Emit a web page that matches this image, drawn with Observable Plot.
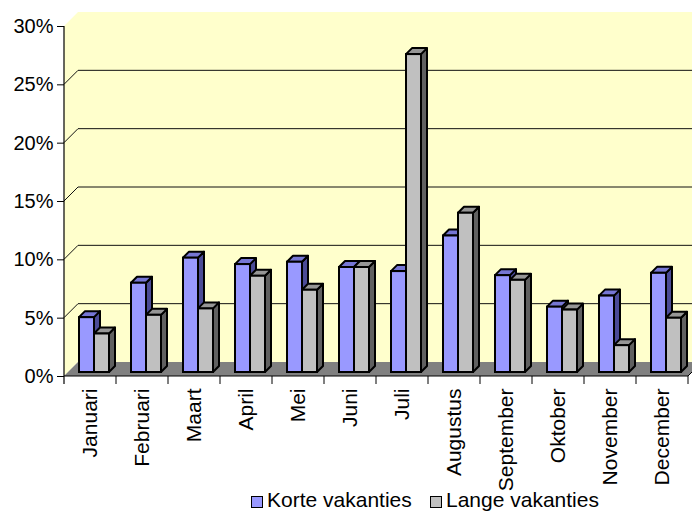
<!DOCTYPE html>
<html>
<head>
<meta charset="utf-8">
<script src="https://cdn.jsdelivr.net/npm/d3@7"></script>
<script src="https://cdn.jsdelivr.net/npm/@observablehq/plot@0.6"></script>
<style>
  body { margin: 0; background: #fff; font-family: "Liberation Sans", Arial, sans-serif; }
  #chart svg { display: block; overflow: visible; }
  #legend { position: relative; height: 24px; font-size: 21px; line-height: 24px; white-space: nowrap; }
  .item { position: absolute; top: 0; }
  .sw { display: inline-block; width: 10px; height: 10px; border: 1.5px solid #000; vertical-align: -1px; margin-right: 4px; }
</style>
</head>
<body>
<div id="chart"></div>
<div id="legend"></div>
<script>
// ---- data ----
const months = ["Januari", "Februari", "Maart", "April", "Mei", "Juni", "Juli", "Augustus", "September", "Oktober", "November", "December"];
const seriesNames = ["Korte vakanties", "Lange vakanties"];
const korte = [4.7, 7.65, 9.8, 9.25, 9.45, 9.0, 8.65, 11.7, 8.3, 5.6, 6.55, 8.5];
const lange = [3.3, 4.9, 5.45, 8.25, 7.05, 9.0, 27.25, 13.65, 7.9, 5.35, 2.3, 4.65];
const yTicks = [0, 5, 10, 15, 20, 25, 30];

// ---- styles ----
const frontColors = ["#9999FF", "#C0C0C0"];
const topColors = ["#7676D4", "#969696"];
const sideColors = ["#4B4B96", "#606060"];
const wallColor = "#FFFFCC";
const floorColor = "#808080";
const W = 692, H = 488;
const mL = 64, mR = 4, mT = 26, mB = H - 376;
const D = 14;      // wall depth (px)
const FD = 4;      // bar front offset (px)
const BD = 6;      // bar depth (px)
const BW = 15;     // bar width (px)

const rows = [];
months.forEach((m, i) => {
  rows.push({month: m, series: seriesNames[0], s: 0, value: korte[i]});
  rows.push({month: m, series: seriesNames[1], s: 1, value: lange[i]});
});

function wallMark(index, scales, values, dim) {
  const {x, y} = scales;
  const g = d3.create("svg:g");
  const x0 = dim.marginLeft, x1 = dim.width - dim.marginRight, xr = dim.width;
  const yb = y(0), yt = y(30);
  g.append("path")
    .attr("d", `M${x0},${yb}L${x0},${yt}L${x0 + D},${yt - D}L${xr},${yt - D}L${xr},${yb - D}L${x0 + D},${yb - D}Z`)
    .attr("fill", wallColor);
  // floor
  g.append("path")
    .attr("d", `M${x0},${yb}L${x0 + D},${yb - D}L${xr},${yb - D}L${xr},${yb - (xr - x1)}L${x1},${yb}Z`)
    .attr("fill", floorColor);
  // gridlines
  for (const t of yTicks) {
    if (t === 0 || t === 30) continue;
    const yy = y(t);
    g.append("path")
      .attr("d", `M${x0},${yy}L${x0 + D},${yy - D}L${xr},${yy - D}`)
      .attr("fill", "none").attr("stroke", "#111").attr("stroke-width", 1);
  }
  // axes lines
  g.append("line").attr("x1", x0).attr("x2", x0).attr("y1", yt).attr("y2", yb + 8)
    .attr("stroke", "#000").attr("stroke-width", 1.2);
  g.append("line").attr("x1", x0).attr("x2", x1).attr("y1", yb).attr("y2", yb)
    .attr("stroke", "#000").attr("stroke-width", 1.2);
  g.append("line").attr("x1", x1).attr("x2", xr).attr("y1", yb).attr("y2", yb - (xr - x1))
    .attr("stroke", "#000").attr("stroke-width", 1);
  // x ticks at band boundaries
  const bw = x.bandwidth();
  months.forEach((m, i) => {
    const bx = x(m) + bw;
    g.append("line").attr("x1", bx).attr("x2", bx).attr("y1", yb).attr("y2", yb + 8)
      .attr("stroke", "#000").attr("stroke-width", 1);
  });
  return g.node();
}

function barTopsSides(index, scales) {
  const {x, y} = scales;
  const g = d3.create("svg:g")
    .attr("stroke", "#000").attr("stroke-width", 2).attr("stroke-linejoin", "round");
  const bw = x.bandwidth();
  for (const d of rows) {
    const c = x(d.month) + bw / 2 + FD;
    const xl = d.s === 0 ? c - BW : c;
    const xr = d.s === 0 ? c : c + BW;
    const yt = y(d.value) - FD, yb = y(0) - FD;
    g.append("path")
      .attr("d", `M${xr},${yt}L${xr + BD},${yt - BD}L${xr + BD},${yb - BD}L${xr},${yb}Z`)
      .attr("fill", sideColors[d.s]);
    g.append("path")
      .attr("d", `M${xl},${yt}L${xr},${yt}L${xr + BD},${yt - BD}L${xl + BD},${yt - BD}Z`)
      .attr("fill", topColors[d.s]);
  }
  return g.node();
}

const band = (W - mL - mR) / months.length;
const half = band / 2;

const chart = Plot.plot({
  width: W,
  height: H,
  marginLeft: mL,
  marginRight: mR,
  marginTop: mT,
  marginBottom: mB,
  style: {fontFamily: "'Liberation Sans', Arial, sans-serif", fontSize: "20px", background: "white", overflow: "visible", color: "#000"},
  x: {domain: months, padding: 0, tickSize: 0, tickPadding: 12, tickRotate: -90, label: null},
  y: {domain: [0, 30], ticks: yTicks, tickFormat: d => d + "%", tickSize: 7, tickPadding: 4, label: null},
  marks: [
    wallMark,
    barTopsSides,
    Plot.barY(rows.filter(d => d.s === 0), {
      x: "month", y: "value", fill: frontColors[0], stroke: "#000", strokeWidth: 2,
      insetLeft: half - (BW - FD), insetRight: half - FD, dy: -FD
    }),
    Plot.barY(rows.filter(d => d.s === 1), {
      x: "month", y: "value", fill: frontColors[1], stroke: "#000", strokeWidth: 2,
      insetLeft: half + FD, insetRight: half - FD - BW, dy: -FD
    })
  ]
});
d3.select(chart).selectAll('[aria-label^="x-axis"]').style("font-size", "21px");
document.getElementById("chart").appendChild(chart);

// legend
const legend = document.getElementById("legend");
const legendX = [251, 430];
seriesNames.forEach((name, i) => {
  const item = document.createElement("span");
  item.className = "item";
  item.style.left = legendX[i] + "px";
  const sw = document.createElement("span");
  sw.className = "sw";
  sw.style.background = frontColors[i];
  item.appendChild(sw);
  item.appendChild(document.createTextNode(name));
  legend.appendChild(item);
});
</script>
</body>
</html>
